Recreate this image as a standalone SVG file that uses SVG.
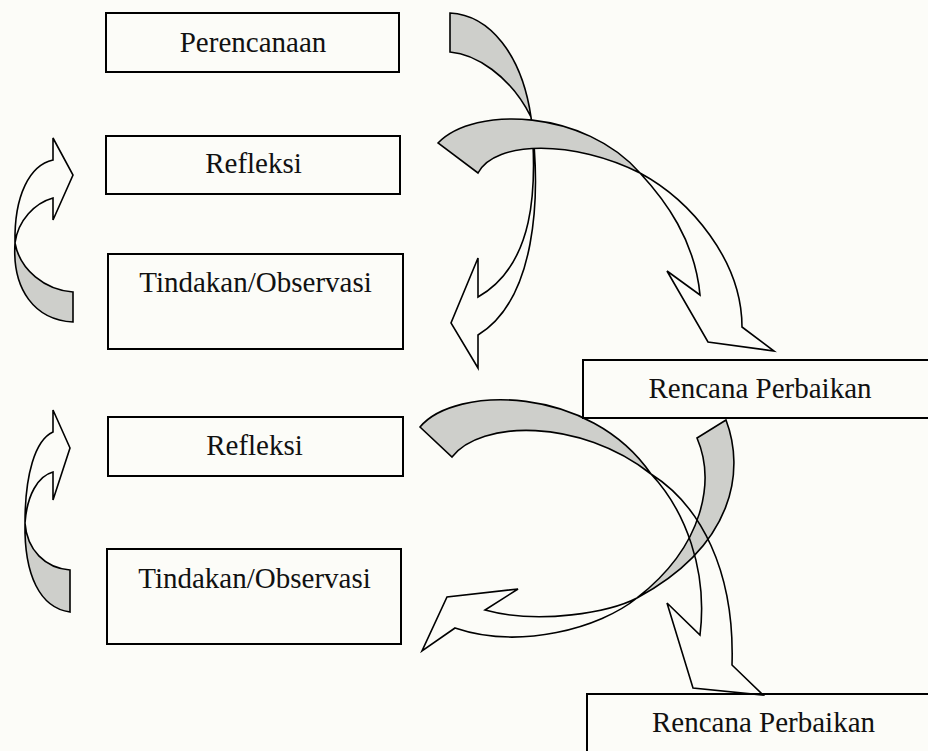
<svg xmlns="http://www.w3.org/2000/svg" width="928" height="751" viewBox="0 0 928 751">
<style>
.box{fill:none;stroke:#000;stroke-width:2}
.lbl{font-family:"Liberation Serif","Times New Roman",serif;font-size:29px;fill:#111;text-anchor:middle}
.g{fill:#cecfcb;stroke:#000;stroke-width:1.6;stroke-linejoin:miter}
.w{fill:none;stroke:#000;stroke-width:1.6;stroke-linejoin:miter}
</style>
<rect x="0" y="0" width="928" height="751" fill="#fcfcf8"/>
<g id="connectors">
  <g id="arrow-perencanaan-tindakan1">
    <path class="g" d="M450,13 L450,52 C475,54 510,75 531,117 C522,55 490,15 450,13 Z"/>
    <path class="w" d="M531,117 C538,190 534,265 478,297 L478,258 L451,323 L478,368 L478,335 C535,300 542,200 531,117 Z"/>
  </g>
  <g id="arrow-to-rencana1">
    <path class="g" d="M438,143 C475,105 585,110 640,173 C575,140 495,140 478,173 Z"/>
    <path class="w" d="M640,173 C665,200 695,240 700,295 L667,271 L708,342 L774,351 L742,327 C742,260 690,200 640,173 Z"/>
  </g>
  <g id="arrow-tindakan1-refleksi1">
    <path class="g" d="M15,243 C20,270 45,290 73,292 L73,322 C35,320 12,290 15,243 Z"/>
    <path class="w" d="M53,160 L53,138 L73,175 L53,220 L53,198 C35,203 18,220 15,243 C14,195 30,165 53,160 Z"/>
  </g>
  <g id="arrow-tindakan2-refleksi2">
    <path class="g" d="M25,523 C27,550 45,568 70,570 L70,612 C40,608 24,575 25,523 Z"/>
    <path class="w" d="M53,432 L53,410 L70,448 L53,500 L53,472 C38,476 27,495 25,523 C25,475 35,440 53,432 Z"/>
  </g>
  <g id="arrow-rencana1-tindakan2">
    <path class="g" d="M697,438 L726,420 C745,470 735,545 637,598 C705,545 715,480 697,438 Z"/>
    <path class="w" d="M637,598 C610,612 540,625 485,610 L518,589 L447,597 L422,651 L455,628 C520,650 600,628 637,598 Z"/>
  </g>
  <g id="arrow-to-rencana2">
    <path class="g" d="M420,427 C455,385 590,385 651,474 C580,418 480,420 452,457 Z"/>
    <path class="w" d="M651,474 C685,510 708,570 700,635 L667,603 L693,688 L763,695 L732,665 C735,570 700,505 651,474 Z"/>
  </g>
</g>
<g id="node-perencanaan">
  <rect class="box" x="106" y="13" width="293" height="59"/>
  <text class="lbl" x="253" y="52">Perencanaan</text>
</g>
<g id="node-refleksi1">
  <rect class="box" x="106" y="136" width="294" height="58"/>
  <text class="lbl" x="253.5" y="173">Refleksi</text>
</g>
<g id="node-tindakan1">
  <rect class="box" x="108" y="254" width="295" height="95"/>
  <text class="lbl" x="255.5" y="292">Tindakan/Observasi</text>
</g>
<g id="node-rencana1">
  <rect class="box" x="583" y="360" width="360" height="58"/>
  <text class="lbl" x="760" y="398">Rencana Perbaikan</text>
</g>
<g id="node-refleksi2">
  <rect class="box" x="108" y="417" width="295" height="59"/>
  <text class="lbl" x="254.5" y="455">Refleksi</text>
</g>
<g id="node-tindakan2">
  <rect class="box" x="107" y="549" width="294" height="95"/>
  <text class="lbl" x="254.5" y="588">Tindakan/Observasi</text>
</g>
<g id="node-rencana2">
  <rect class="box" x="587" y="694" width="360" height="80"/>
  <text class="lbl" x="763.5" y="732">Rencana Perbaikan</text>
</g>
</svg>
